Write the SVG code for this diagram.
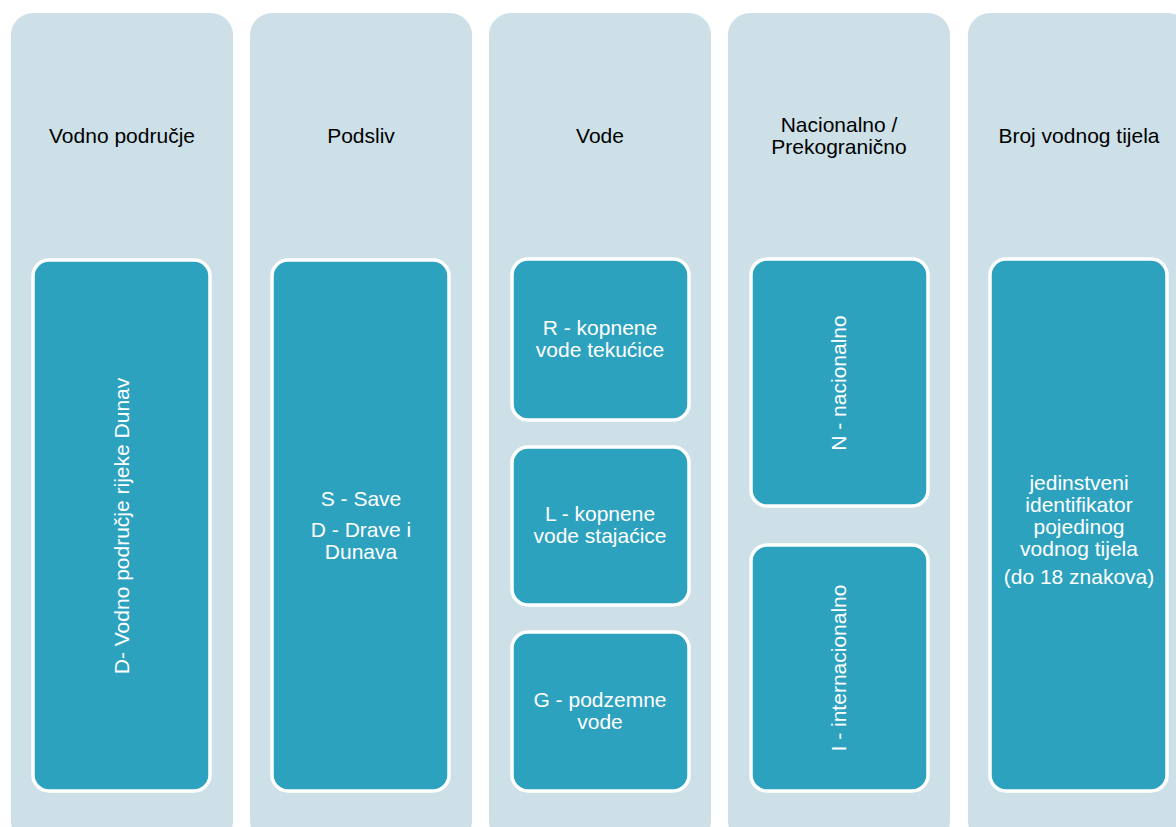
<svg xmlns="http://www.w3.org/2000/svg" width="1176" height="827" viewBox="0 0 1176 827">
<style>
.col{fill:#CDE0E8;}
.box{fill:#2DA2BF;stroke:#FFFFFF;stroke-width:3.5;}
.hd{font-family:"Liberation Sans",Arial,sans-serif;font-size:21px;fill:#000000;text-anchor:middle;}
.bt{font-family:"Liberation Sans",Arial,sans-serif;font-size:21px;fill:#FFFFFF;text-anchor:middle;}
</style>
<rect width="1176" height="827" fill="#FFFFFF"/>
<g id="col1">
<rect class="col" x="11" y="13" width="222" height="830" rx="22"/>
<text class="hd" x="122" y="143">Vodno područje</text>
</g>
<g id="col2">
<rect class="col" x="250" y="13" width="222" height="830" rx="22"/>
<text class="hd" x="361" y="143">Podsliv</text>
</g>
<g id="col3">
<rect class="col" x="489" y="13" width="222" height="830" rx="22"/>
<text class="hd" x="600" y="143">Vode</text>
</g>
<g id="col4">
<rect class="col" x="728" y="13" width="222" height="830" rx="22"/>
<text class="hd" x="839" y="132">Nacionalno /</text>
<text class="hd" x="839" y="154">Prekogranično</text>
</g>
<g id="col5">
<rect class="col" x="968" y="13" width="222" height="830" rx="22"/>
<text class="hd" x="1079" y="143">Broj vodnog tijela</text>
</g>
<g id="d-dunav">
<rect class="box" x="33" y="260" width="177" height="531" rx="16"/>
<text class="bt" transform="translate(129,526) rotate(-90)" x="0" y="0">D- Vodno područje rijeke Dunav</text>
</g>
<g id="s-d">
<rect class="box" x="272" y="260" width="177" height="531" rx="16"/>
<text class="bt" x="361" y="506">S - Save</text>
<text class="bt" x="361" y="537">D - Drave i</text>
<text class="bt" x="361" y="559">Dunava</text>
</g>
<g id="r">
<rect class="box" x="512" y="259" width="177" height="161" rx="16"/>
<text class="bt" x="600" y="335">R - kopnene</text>
<text class="bt" x="600" y="357">vode tekućice</text>
</g>
<g id="l">
<rect class="box" x="512" y="447" width="177" height="158" rx="16"/>
<text class="bt" x="600" y="521">L - kopnene</text>
<text class="bt" x="600" y="543">vode stajaćice</text>
</g>
<g id="g">
<rect class="box" x="512" y="632" width="177" height="159" rx="16"/>
<text class="bt" x="600" y="707">G - podzemne</text>
<text class="bt" x="600" y="729">vode</text>
</g>
<g id="n">
<rect class="box" x="751" y="259" width="177" height="247" rx="16"/>
<text class="bt" transform="translate(846,383) rotate(-90)" x="0" y="0">N - nacionalno</text>
</g>
<g id="i">
<rect class="box" x="751" y="545" width="177" height="246" rx="16"/>
<text class="bt" transform="translate(846,668) rotate(-90)" x="0" y="0">I - internacionalno</text>
</g>
<g id="id">
<rect class="box" x="990" y="259" width="177" height="532" rx="16"/>
<text class="bt" x="1079" y="490">jedinstveni</text>
<text class="bt" x="1079" y="512">identifikator</text>
<text class="bt" x="1079" y="534">pojedinog</text>
<text class="bt" x="1079" y="556">vodnog tijela</text>
<text class="bt" x="1079" y="584">(do 18 znakova)</text>
</g>
<g id="connectors"></g>
</svg>
